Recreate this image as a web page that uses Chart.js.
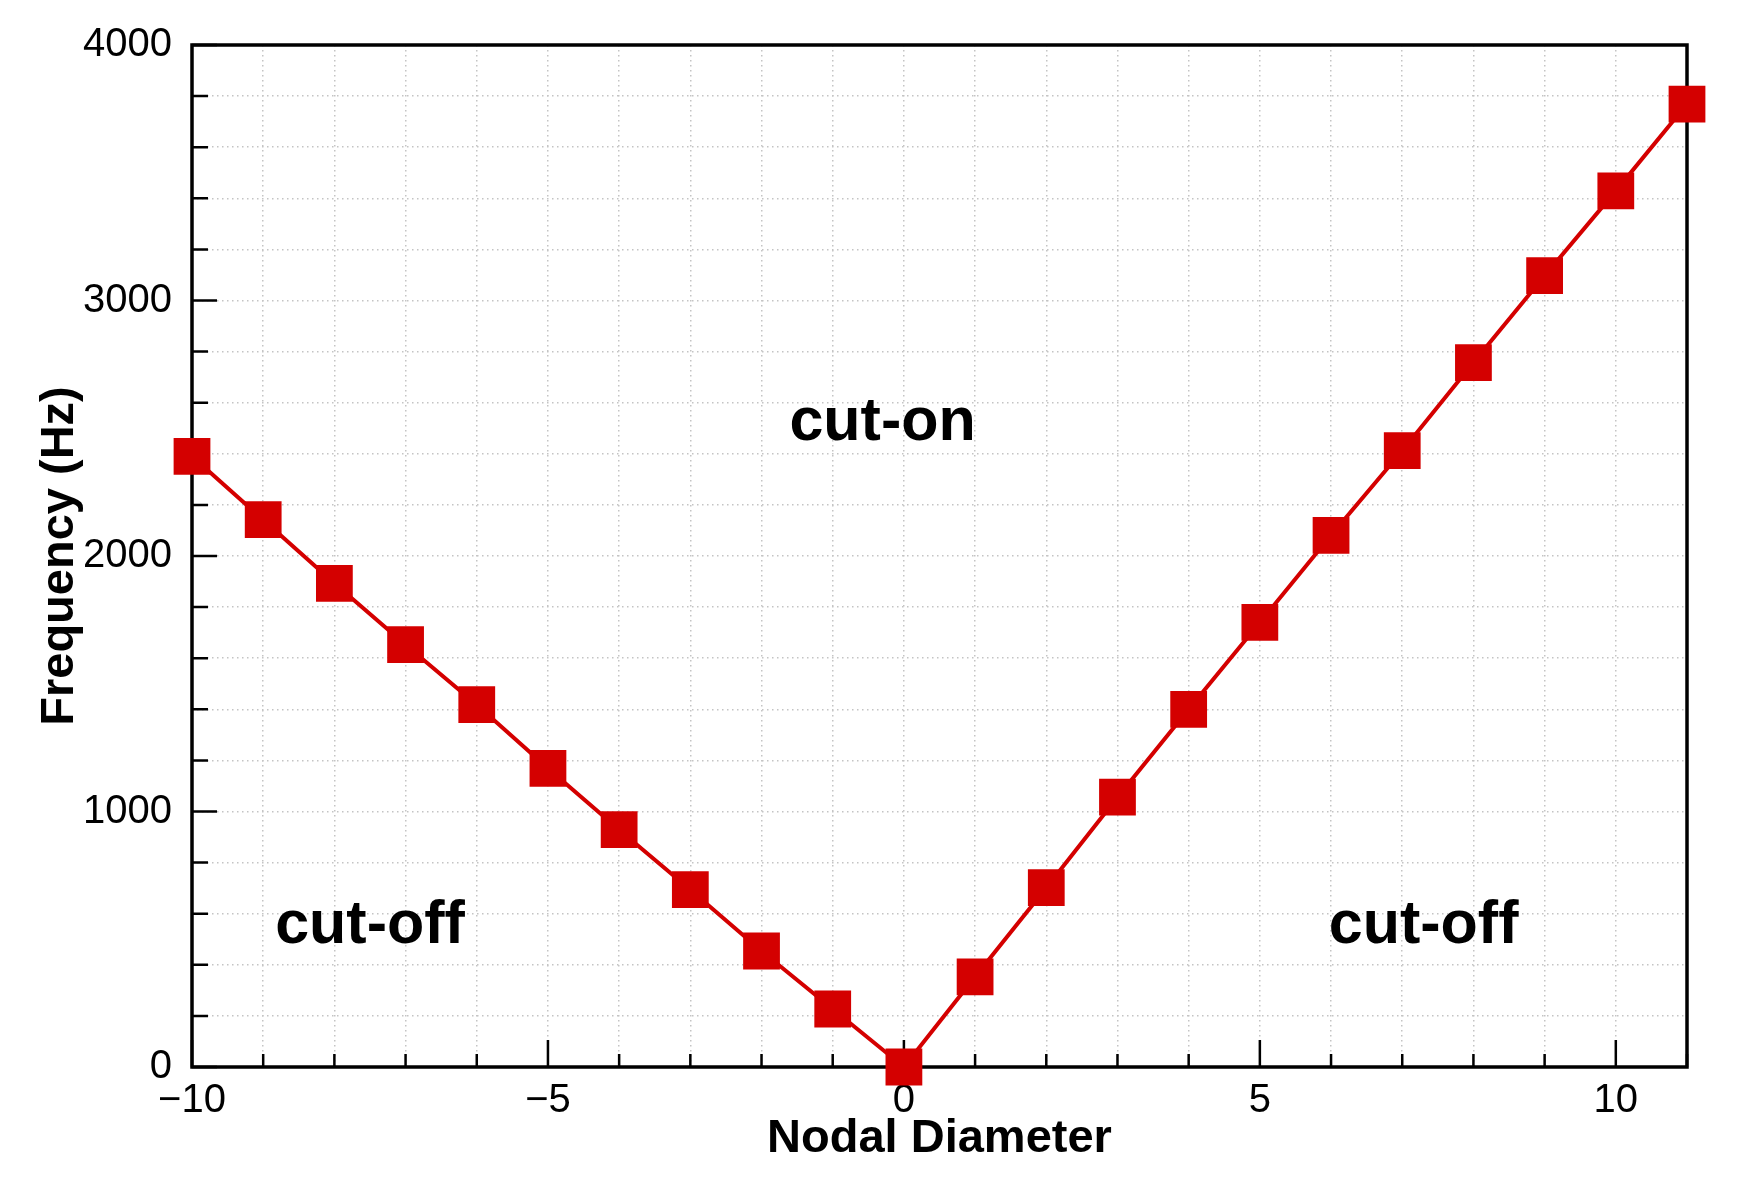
<!DOCTYPE html>
<html>
<head>
<meta charset="utf-8">
<script src="https://cdn.jsdelivr.net/npm/chart.js@4/dist/chart.umd.min.js"></script>
<style>
  html, body { margin: 0; padding: 0; background: #fff; }
  #wrap { width: 1749px; height: 1195px; }
</style>
</head>
<body>
<div id="wrap"><canvas id="chart1"></canvas></div>
<script>
let nodalDiameter = [-10, -9, -8, -7, -6, -5, -4, -3, -2, -1, 0, 1, 2, 3, 4, 5, 6, 7, 8, 9, 10, 11];
let frequency = [2390, 2142, 1893, 1653, 1418, 1169, 929, 694, 454, 227, 0,
                 353, 702, 1056, 1400, 1740, 2081, 2412, 2757, 3097, 3429, 3769];
let regionLabels = ['cut-on', 'cut-off', 'cut-off'];
let regionX = [-0.3, -7.5, 7.3];
let regionY = [2520, 550, 550];

let red = 'rgb(212,0,0)';

function chart1() {
  let ctx = document.getElementById('chart1').getContext('2d');
  let points = nodalDiameter.map((x, i) => ({ x: x, y: frequency[i] }));

  new Chart(ctx, {
    type: 'line',
    data: {
      datasets: [{
        data: points,
        borderColor: red,
        borderWidth: 4,
        backgroundColor: red,
        pointStyle: 'rect',
        pointRadius: 26,
        pointHoverRadius: 26,
        pointBorderWidth: 0,
        tension: 0,
        clip: false
      }]
    },
    options: {
      responsive: true,
      maintainAspectRatio: false,
      animation: false,
      events: [],
      layout: { padding: { left: 32, right: 62, top: 45, bottom: 28 } },
      scales: {
        x: {
          type: 'linear',
          min: -10,
          max: 11,
          grid: {
            color: '#c4c4c4',
            lineWidth: 1.5,
            drawTicks: false
          },
          border: { display: false, dash: [1.5, 3.5] },
          ticks: {
            stepSize: 1,
            autoSkip: false,
            maxRotation: 0,
            padding: 10,
            color: '#000',
            font: { family: 'Liberation Sans', size: 40 },
            callback: (v) => v % 5 === 0 ? String(v).replace('-', '\u2212') : ''
          },
          title: {
            display: true,
            text: 'Nodal Diameter',
            color: '#000',
            font: { family: 'Liberation Sans', size: 47, weight: 'bold' },
            padding: { top: 0, bottom: 0 }
          },
          afterFit: (s) => { s.height = 100; }
        },
        y: {
          min: 0,
          max: 4000,
          grid: {
            color: '#c4c4c4',
            lineWidth: 1.5,
            drawTicks: false
          },
          border: { display: false, dash: [1.5, 3.5] },
          ticks: {
            stepSize: 200,
            autoSkip: false,
            padding: 20,
            color: '#000',
            font: { family: 'Liberation Sans', size: 40 },
            callback: (v) => v % 1000 === 0 ? String(v) : ''
          },
          title: {
            display: true,
            text: 'Frequency (Hz)',
            color: '#000',
            font: { family: 'Liberation Sans', size: 47, weight: 'bold' },
            padding: { top: 0, bottom: 0 }
          },
          afterFit: (s) => { s.width = 160; }
        }
      },
      plugins: {
        legend: { display: false },
        tooltip: { enabled: false }
      }
    },
    plugins: [{
      id: 'frame',
      beforeDraw: (chart) => {
        const c = chart.ctx;
        c.save();
        c.fillStyle = '#fff';
        c.fillRect(0, 0, chart.width, chart.height);
        c.restore();
      },
      beforeDatasetsDraw: (chart) => {
        const c = chart.ctx;
        const a = chart.chartArea;
        const xs = chart.scales.x;
        const ys = chart.scales.y;
        c.save();
        c.strokeStyle = '#000';
        c.lineWidth = 2.5;
        // inward ticks
        c.beginPath();
        xs.ticks.forEach(t => {
          const px = xs.getPixelForValue(t.value);
          const len = t.value % 5 === 0 ? 27 : 13;
          c.moveTo(px, a.bottom);
          c.lineTo(px, a.bottom - len);
        });
        ys.ticks.forEach(t => {
          const py = ys.getPixelForValue(t.value);
          const len = t.value % 1000 === 0 ? 25 : 16;
          c.moveTo(a.left, py);
          c.lineTo(a.left + len, py);
        });
        c.stroke();
        // frame
        c.lineWidth = 3.5;
        c.strokeRect(a.left, a.top, a.right - a.left, a.bottom - a.top);
        // region labels
        c.fillStyle = '#000';
        c.font = 'bold 61px "Liberation Sans"';
        c.textAlign = 'center';
        c.textBaseline = 'middle';
        regionLabels.forEach((txt, i) => {
          c.fillText(txt, xs.getPixelForValue(regionX[i]), ys.getPixelForValue(regionY[i]));
        });
        c.restore();
      }
    }]
  });
}

chart1();
</script>
</body>
</html>
